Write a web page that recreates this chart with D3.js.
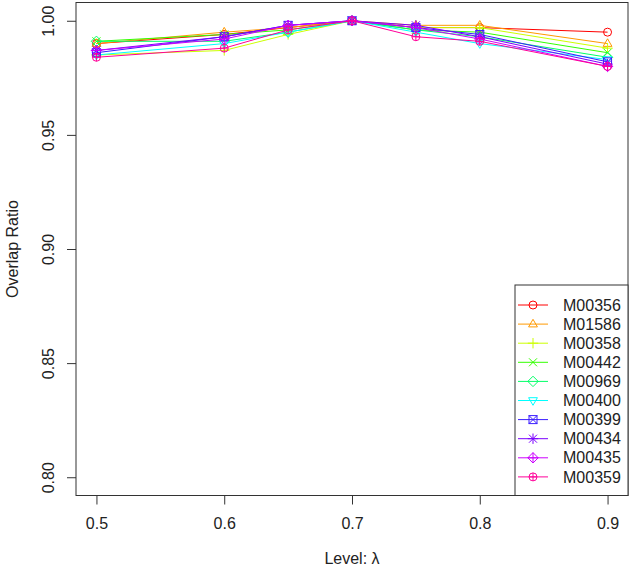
<!DOCTYPE html>
<html>
<head>
<meta charset="utf-8">
<script src="https://cdn.jsdelivr.net/npm/d3@7"></script>
<style>
  body { margin: 0; background: #fff; }
  text { font-family: "Liberation Sans", Arial, sans-serif; fill: #222; }
</style>
</head>
<body>
<svg></svg>
<script>
//svg size
const width = 630;
const height = 571;

//data
var levels = [0.5, 0.6, 0.65, 0.7, 0.75, 0.8, 0.9];
var names = ['M00356', 'M01586', 'M00358', 'M00442', 'M00969', 'M00400', 'M00399', 'M00434', 'M00435', 'M00359'];
var M00356 = [0.990, 0.994, 0.997, 1.000, 0.997, 0.997, 0.995];
var M01586 = [0.990, 0.995, 0.997, 1.000, 0.998, 0.998, 0.990];
var M00358 = [0.985, 0.987, 0.994, 1.000, 0.997, 0.997, 0.988];
var M00442 = [0.991, 0.994, 0.996, 1.000, 0.996, 0.995, 0.986];
var M00969 = [0.991, 0.991, 0.995, 1.000, 0.996, 0.993, 0.984];
var M00400 = [0.985, 0.990, 0.995, 1.000, 0.995, 0.990, 0.983];
var M00399 = [0.986, 0.993, 0.998, 1.000, 0.997, 0.994, 0.982];
var M00434 = [0.987, 0.993, 0.998, 1.000, 0.998, 0.993, 0.981];
var M00435 = [0.987, 0.992, 0.998, 1.000, 0.997, 0.992, 0.980];
var M00359 = [0.984, 0.988, 0.996, 1.000, 0.993, 0.991, 0.980];
var series = [M00356, M01586, M00358, M00442, M00969, M00400, M00399, M00434, M00435, M00359];
var xTicks = [0.5, 0.6, 0.7, 0.8, 0.9];
var yTicks = [0.80, 0.85, 0.90, 0.95, 1.00];

//colours, one per series (R rainbow-ish)
var colors = ['#FF0000', '#FF9900', '#CCFF00', '#33FF00', '#00FF66', '#00FFFF', '#3A1CFF', '#7A00FF', '#CC00FF', '#FF0099'];

var svg = d3.select('svg')
    .attr('width', width)
    .attr('height', height);

//plot box
var boxLeft = 76, boxRight = 628, boxTop = 2.5, boxBottom = 495.5;

//scales (R style 4% padding)
var x = d3.scaleLinear().domain([0.484, 0.916]).range([boxLeft, boxRight]);
var y = d3.scaleLinear().domain([0.792, 1.008]).range([boxBottom, boxTop]);

//box
svg.append('rect')
   .attr('x', boxLeft).attr('y', boxTop)
   .attr('width', boxRight - boxLeft).attr('height', boxBottom - boxTop)
   .attr('fill', 'none').attr('stroke', '#333').attr('stroke-width', 1);

//x axis
var xAxis = svg.append('g')
    .attr('transform', 'translate(0,' + boxBottom + ')')
    .call(d3.axisBottom(x).tickValues(xTicks).tickSize(9).tickFormat(d3.format('.1f')));
xAxis.select('.domain').remove();
xAxis.selectAll('line').attr('stroke', '#333');
xAxis.selectAll('text')
     .attr('y', 28).attr('dy', '0.35em')
     .style('font-size', '16px')
     .style('font-family', '"Liberation Sans", Arial, sans-serif')
     .attr('fill', '#222');

//y axis
var yAxis = svg.append('g')
    .attr('transform', 'translate(' + boxLeft + ',0)')
    .call(d3.axisLeft(y).tickValues(yTicks).tickSize(9).tickFormat(d3.format('.2f')));
yAxis.select('.domain').remove();
yAxis.selectAll('line').attr('stroke', '#333');
yAxis.selectAll('text')
     .attr('x', 0).attr('y', 0).attr('dy', '0.35em')
     .attr('text-anchor', 'middle')
     .attr('transform', 'translate(-28,0) rotate(-90)')
     .style('font-size', '16px')
     .style('font-family', '"Liberation Sans", Arial, sans-serif')
     .attr('fill', '#222');

//axis titles
svg.append('text')
   .text('Level: λ')
   .attr('x', (boxLeft + boxRight) / 2).attr('y', 558)
   .attr('text-anchor', 'middle').attr('dy', '0.35em')
   .style('font-size', '16px');

svg.append('text')
   .text('Overlap Ratio')
   .attr('text-anchor', 'middle').attr('dy', '0.35em')
   .attr('transform', 'translate(12,' + ((boxTop + boxBottom) / 2) + ') rotate(-90)')
   .style('font-size', '16px');

//marker drawing, R pch 1..10
var r = 4;
function marker(g, cx, cy, pch, col) {
    var m = g.append('g')
             .attr('transform', 'translate(' + cx + ',' + cy + ')')
             .attr('fill', 'none').attr('stroke', col).attr('stroke-width', 1);
    var d = r * 1.3;
    if (pch == 1) {
        m.append('circle').attr('r', r);
    } else if (pch == 2) {
        m.append('path').attr('d', 'M0,' + (-r * 1.2) + 'L' + (r * 1.1) + ',' + (r * 0.7) + 'L' + (-r * 1.1) + ',' + (r * 0.7) + 'Z');
    } else if (pch == 3) {
        m.append('path').attr('d', 'M' + (-d) + ',0H' + d + 'M0,' + (-d) + 'V' + d);
    } else if (pch == 4) {
        m.append('path').attr('d', 'M' + (-r) + ',' + (-r) + 'L' + r + ',' + r + 'M' + (-r) + ',' + r + 'L' + r + ',' + (-r));
    } else if (pch == 5) {
        m.append('path').attr('d', 'M0,' + (-d) + 'L' + d + ',0L0,' + d + 'L' + (-d) + ',0Z');
    } else if (pch == 6) {
        m.append('path').attr('d', 'M0,' + (r * 1.2) + 'L' + (r * 1.1) + ',' + (-r * 0.7) + 'L' + (-r * 1.1) + ',' + (-r * 0.7) + 'Z');
    } else if (pch == 7) {
        m.append('rect').attr('x', -r).attr('y', -r).attr('width', 2 * r).attr('height', 2 * r);
        m.append('path').attr('d', 'M' + (-r) + ',' + (-r) + 'L' + r + ',' + r + 'M' + (-r) + ',' + r + 'L' + r + ',' + (-r));
    } else if (pch == 8) {
        m.append('path').attr('d', 'M' + (-d) + ',0H' + d + 'M0,' + (-d) + 'V' + d +
            'M' + (-r) + ',' + (-r) + 'L' + r + ',' + r + 'M' + (-r) + ',' + r + 'L' + r + ',' + (-r));
    } else if (pch == 9) {
        m.append('path').attr('d', 'M0,' + (-d) + 'L' + d + ',0L0,' + d + 'L' + (-d) + ',0Z' +
            'M' + (-d) + ',0H' + d + 'M0,' + (-d) + 'V' + d);
    } else if (pch == 10) {
        m.append('circle').attr('r', r);
        m.append('path').attr('d', 'M' + (-r) + ',0H' + r + 'M0,' + (-r) + 'V' + r);
    }
}

//lines and points
var line = d3.line()
    .x(function(d, i) { return x(levels[i]); })
    .y(function(d) { return y(d); });

var plot = svg.append('g').attr('class', 'plot');

for (var i = 0; i < series.length; i++) {
    plot.append('path')
        .datum(series[i])
        .attr('d', line)
        .attr('fill', 'none')
        .attr('stroke', colors[i])
        .attr('stroke-width', 1);

    for (var j = 0; j < levels.length; j++) {
        marker(plot, x(levels[j]), y(series[i][j]), i + 1, colors[i]);
    }
}

//legend
var legend = svg.append('g').attr('class', 'legend');
var legTop = 285, legLeft = 515, step = 19.1;

legend.append('rect')
      .attr('x', legLeft).attr('y', legTop)
      .attr('width', boxRight - legLeft).attr('height', boxBottom - legTop)
      .attr('fill', '#fff').attr('stroke', '#333');

for (var k = 0; k < names.length; k++) {
    var ly = legTop + 20 + k * step;
    legend.append('line')
          .attr('x1', legLeft + 3).attr('x2', legLeft + 33)
          .attr('y1', ly).attr('y2', ly)
          .attr('stroke', colors[k]);
    marker(legend, legLeft + 18, ly, k + 1, colors[k]);
    legend.append('text')
          .text(names[k])
          .attr('x', legLeft + 48).attr('y', ly)
          .attr('dy', '0.35em')
          .style('font-size', '16px');
}
</script>
</body>
</html>
